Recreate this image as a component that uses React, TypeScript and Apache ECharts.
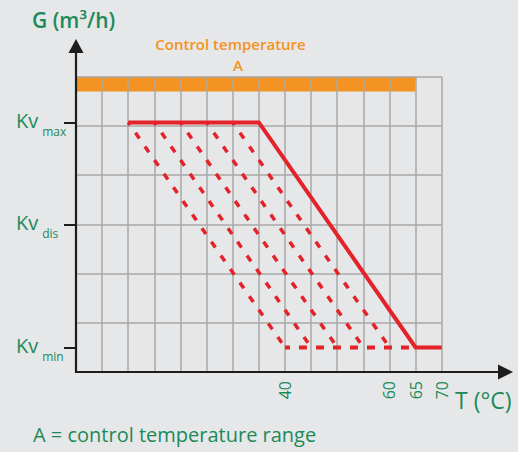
import React, { useEffect, useRef } from "react";
import * as echarts from "echarts";

// Axis ranges (T in °C, G in grid units)
const tMin = 0;
const tMax = 70;
const tStep = 5;
const gMin = 0;
const gMax = 6;
const gStep = 1;

// Tick labels
const tLabelValues = [40, 60, 65, 70];
const kvValues = [0.5, 3, 5.07];
const kvSubs = ["min", "dis", "max"];

// Solid characteristic
const solidT = [10, 35, 65, 70];
const solidG = [5.07, 5.07, 0.5, 0.5];

// Dashed characteristics (start at Kvmax, end at Kvmin)
const dashStartT = [10, 15, 20, 25, 30];
const dashEndT = [40, 45, 50, 55, 60];
const dashTopG = 5.07;
const dashBottomG = 0.5;

// Dashed bottom line
const bottomDashT = [40, 65];
const bottomDashG = [0.5, 0.5];

// Control temperature band
const bandT = [0, 65];
const bandG = [5.7, 6];

const GREEN = "#1b8a5a";
const ORANGE = "#f39322";
const RED = "#e42229";
const BLACK = "#1d1d1b";
const GRID = "#a9a9a9";
const BG = "#e6e7e8";
const FONT = '"Open Sans", "Noto Sans", sans-serif';

export default function App() {
  const ref = useRef<HTMLDivElement>(null);

  useEffect(() => {
    if (!ref.current) return;
    const chart = echarts.init(ref.current, undefined, { renderer: "svg" });

    const dashSeries = dashStartT.map((s, i) => ({
      type: "line",
      data: [
        [s, dashTopG],
        [dashEndT[i], dashBottomG],
      ],
      symbol: "none",
      silent: true,
      z: 3,
      lineStyle: { color: RED, width: 3.5, type: [7, 9.6], dashOffset: 3.8, cap: "butt" },
    }));

    const option: any = {
      animation: false,
      backgroundColor: BG,
      grid: {
        left: 76,
        right: 76.3,
        top: 76.7,
        bottom: 80,
        containLabel: false,
        outerBoundsMode: "none",
      },
      xAxis: {
        type: "value",
        min: tMin,
        max: tMax,
        interval: tStep,
        axisLine: { show: false },
        axisTick: { show: false },
        splitLine: { show: true, lineStyle: { color: GRID, width: 1.5 } },
        axisLabel: {
          customValues: tLabelValues,
          rotate: 90,
          margin: 9,
          color: GREEN,
          fontSize: 16,
          fontFamily: FONT,
        },
      },
      yAxis: [
        {
          type: "value",
          min: gMin,
          max: gMax,
          interval: gStep,
          position: "left",
          axisLine: { show: false },
          axisTick: { show: false },
          axisLabel: { show: false },
          splitLine: { show: true, lineStyle: { color: GRID, width: 1.5 } },
        },
        {
          type: "value",
          min: gMin,
          max: gMax,
          position: "left",
          offset: 0,
          axisLine: { show: false },
          splitLine: { show: false },
          axisTick: {
            show: true,
            customValues: kvValues,
            length: 12,
            lineStyle: { color: BLACK, width: 2 },
          },
          axisLabel: {
            customValues: kvValues,
            align: "left",
            margin: 60,
            formatter: (v: number) => {
              const i = kvValues.findIndex((k) => Math.abs(k - v) < 1e-6);
              return i >= 0 ? `{kv|Kv}{sub|${kvSubs[i]}}` : "";
            },
            rich: {
              kv: {
                fontSize: 20,
                fontFamily: FONT,
                color: GREEN,
                lineHeight: 24,
                padding: [0, 0, 4, 0],
              },
              sub: {
                fontSize: 12,
                fontFamily: FONT,
                color: GREEN,
                lineHeight: 30,
                padding: [18, 0, 0, 4],
              },
            },
          },
        },
      ],
      graphic: [
        // y axis
        { type: "line", shape: { x1: 76, y1: 373, x2: 76, y2: 50 }, style: { stroke: BLACK, lineWidth: 2.2 }, z: 10 },
        { type: "polygon", shape: { points: [[68.5, 53], [83.5, 53], [76, 39]] }, style: { fill: BLACK }, z: 10 },
        // x axis
        { type: "line", shape: { x1: 75, y1: 372, x2: 500, y2: 372 }, style: { stroke: BLACK, lineWidth: 2.2 }, z: 10 },
        { type: "polygon", shape: { points: [[498, 364.5], [498, 379.5], [513, 372]] }, style: { fill: BLACK }, z: 10 },
        // titles
        {
          type: "text",
          x: 32,
          y: 20,
          style: { text: "G (m³/h)", font: `600 21px ${FONT}`, fill: GREEN, textAlign: "left", textVerticalAlign: "middle" },
        },
        {
          type: "text",
          x: 230.5,
          y: 44,
          style: { text: "Control temperature", font: `600 15px ${FONT}`, fill: ORANGE, textAlign: "center", textVerticalAlign: "middle" },
        },
        {
          type: "text",
          x: 238,
          y: 64.5,
          style: { text: "A", font: `600 15px ${FONT}`, fill: ORANGE, textAlign: "center", textVerticalAlign: "middle" },
        },
        {
          type: "text",
          x: 455,
          y: 400,
          style: { text: "T (°C)", font: `500 23px ${FONT}`, fill: GREEN, textAlign: "left", textVerticalAlign: "middle" },
        },
        {
          type: "text",
          x: 33,
          y: 434,
          style: { text: "A = control temperature range", font: `20px ${FONT}`, fill: GREEN, textAlign: "left", textVerticalAlign: "middle" },
        },
      ],
      series: [
        {
          type: "line",
          data: [],
          silent: true,
          z: 1,
          markArea: {
            silent: true,
            z: -1,
            itemStyle: { color: ORANGE, opacity: 1 },
            data: [
              [
                { xAxis: bandT[0], yAxis: bandG[0] },
                { xAxis: bandT[1], yAxis: bandG[1] },
              ],
            ],
          },
        },
        ...dashSeries,
        {
          type: "line",
          data: bottomDashT.map((t, i) => [t, bottomDashG[i]]),
          symbol: "none",
          silent: true,
          z: 3,
          lineStyle: { color: RED, width: 4, type: [8, 9], dashOffset: 3, cap: "butt" },
        },
        {
          type: "line",
          data: solidT.map((t, i) => [t, solidG[i]]),
          symbol: "none",
          silent: true,
          z: 4,
          lineStyle: { color: RED, width: 4, type: "solid", join: "miter" },
        },
      ],
    };

    chart.setOption(option);
    return () => chart.dispose();
  }, []);

  return (
    <div
      ref={ref}
      style={{ position: "fixed", left: 0, top: 0, width: 518, height: 452 }}
    />
  );
}
